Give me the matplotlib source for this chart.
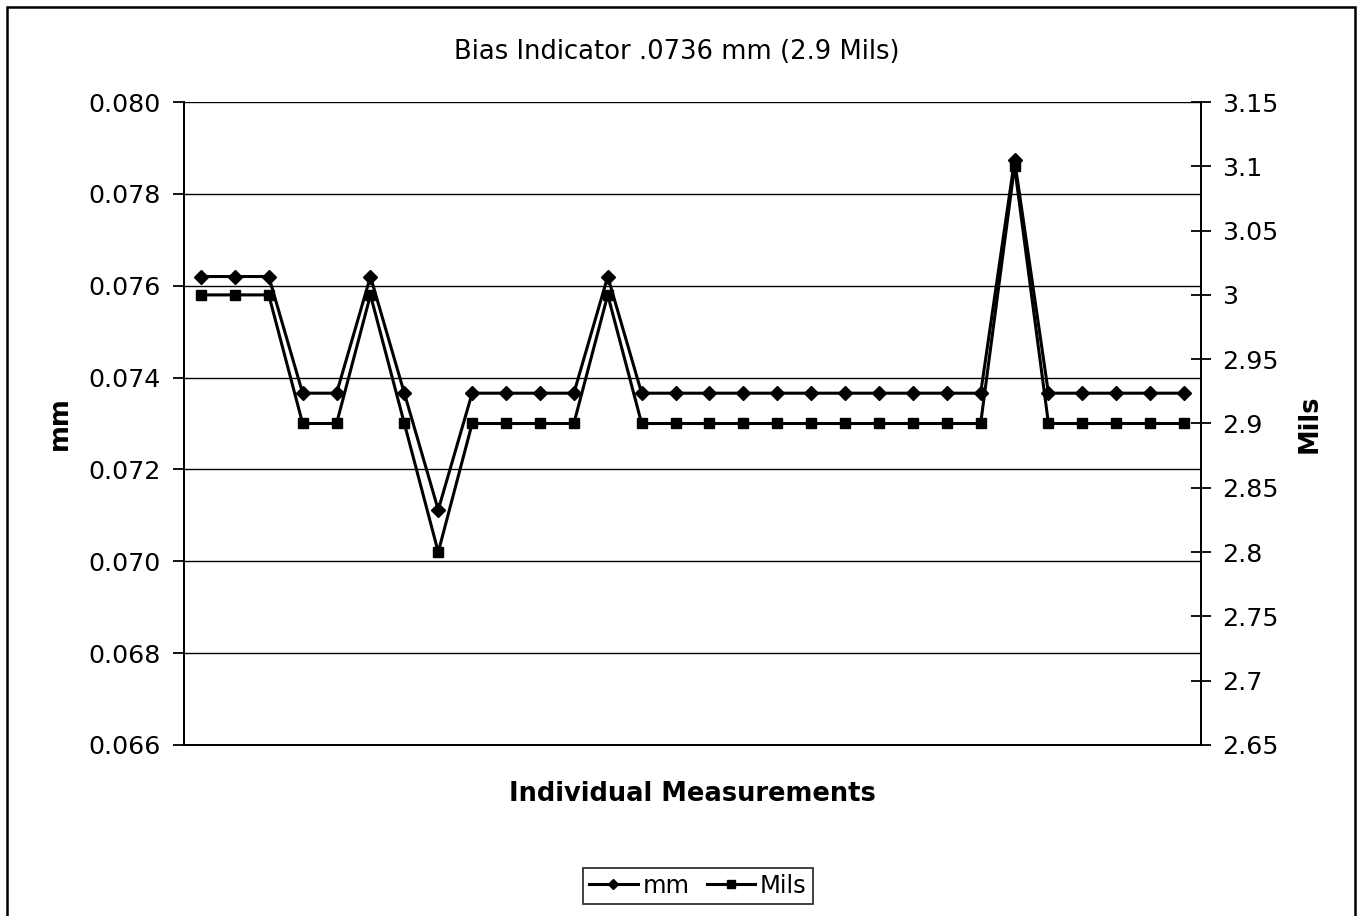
import numpy as np
import matplotlib
matplotlib.use("Agg")
import matplotlib.pyplot as plt
from matplotlib.patches import Rectangle

# readings in mils, 30 individual measurements
mils = [3.0, 3.0, 3.0, 2.9, 2.9, 3.0, 2.9, 2.8, 2.9, 2.9,
        2.9, 2.9, 3.0, 2.9, 2.9, 2.9, 2.9, 2.9, 2.9, 2.9,
        2.9, 2.9, 2.9, 2.9, 3.1, 2.9, 2.9, 2.9, 2.9, 2.9]
mm = [round(v * 0.0254, 5) for v in mils]
x = np.arange(1, len(mils) + 1)

mm_ticks = [0.066, 0.068, 0.070, 0.072, 0.074, 0.076, 0.078, 0.080]
mils_ticks = [2.65, 2.7, 2.75, 2.8, 2.85, 2.9, 2.95, 3.0, 3.05, 3.1, 3.15]
mils_labels = ['2.65', '2.7', '2.75', '2.8', '2.85', '2.9', '2.95', '3', '3.05', '3.1', '3.15']

plt.rcParams['font.family'] = 'DejaVu Sans'

fig = plt.figure(figsize=(13.63, 9.16), dpi=100)
ax = fig.add_axes([184/1363, 1 - 745/916, 1017/1363, 643/916])
ax2 = ax.twinx()

l1, = ax.plot(x, mm, color='black', lw=2.2, marker='D', ms=7, label='mm')
l2, = ax2.plot(x, mils, color='black', lw=2.2, marker='s', ms=7.5, label='Mils')

ax.set_xlim(0.5, len(mils) + 0.5)
ax.set_ylim(0.066, 0.080)
ax.set_yticks(mm_ticks)
ax.set_yticklabels(['%.3f' % t for t in mm_ticks], fontsize=18.2)
ax.yaxis.grid(True, color='black', lw=1)
ax.set_xticks([])
ax.tick_params(axis='y', direction='out', length=8, width=1.3, pad=9)

ax2.set_ylim(2.65, 3.15)
ax2.set_yticks(mils_ticks)
ax2.set_yticklabels(mils_labels, fontsize=18.2)
ax2.tick_params(axis='y', direction='inout', length=15, width=1.3, pad=8)

for a in (ax, ax2):
    for s in a.spines.values():
        s.set_linewidth(1.3)
    a.spines['top'].set_visible(False)

ax.set_ylabel('mm', fontsize=18.5, fontweight='bold', labelpad=11)
ax2.set_ylabel('Mils', fontsize=18.5, fontweight='bold', labelpad=13)
ax.set_xlabel('Individual Measurements', fontsize=18.5, fontweight='bold', labelpad=26)
fig.text(677/1363, 1 - 52/916, 'Bias Indicator .0736 mm (2.9 Mils)', fontsize=18.6,
         ha='center', va='center')

leg = fig.legend(handles=[l1, l2], loc='center', bbox_to_anchor=(698/1363, 1 - 886/916),
                 ncol=2, fontsize=17.5, frameon=True, fancybox=False, edgecolor='black',
                 handlelength=2.0, handletextpad=0.2, columnspacing=0.7, borderpad=0.25,
                 markerscale=0.8)
leg.get_frame().set_linewidth(1.3)

fig.patches.append(Rectangle((7/1363, -0.01), 1348/1363, 1 - 7/916 + 0.01,
                             transform=fig.transFigure, fill=False, lw=1.8,
                             edgecolor='black'))

fig.savefig('out.png', dpi=100)
